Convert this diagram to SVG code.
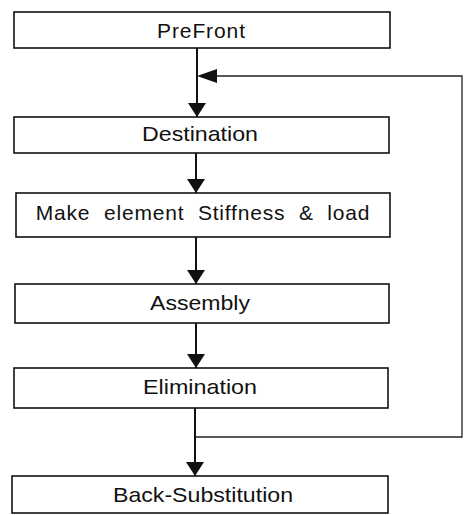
<svg xmlns="http://www.w3.org/2000/svg" width="468" height="515" viewBox="0 0 468 515">
<defs>
<style>
.box{fill:#fff;stroke:#111;stroke-width:1.6}
.t{font-family:"Liberation Sans",Arial,sans-serif;font-size:21px;fill:#111;text-anchor:middle}
.ln{stroke:#111;stroke-width:2;fill:none}
.fb{stroke:#222;stroke-width:1.3;fill:none}
</style>
<marker id="ah" viewBox="0 0 14 18" refX="14" refY="9" markerWidth="14" markerHeight="18" markerUnits="userSpaceOnUse" orient="auto">
<path d="M0,0 L14,9 L0,18 Z" fill="#111"/>
</marker>
</defs>
<rect width="468" height="515" fill="#fff"/>
<g id="connectors">
<line class="ln" x1="197" y1="48" x2="197" y2="117" marker-end="url(#ah)"/>
<polyline class="fb" points="196,437 462,437 462,76 216,76"/>
<path d="M197,76 L217,69 L217,83 Z" fill="#111"/>
<line class="ln" x1="196" y1="153" x2="196" y2="193" marker-end="url(#ah)"/>
<line class="ln" x1="196" y1="237" x2="196" y2="284" marker-end="url(#ah)"/>
<line class="ln" x1="196" y1="323" x2="196" y2="368" marker-end="url(#ah)"/>
<line class="ln" x1="195" y1="408" x2="195" y2="476" marker-end="url(#ah)"/>
</g>
<g id="prefront"><rect class="box" x="14" y="12" width="376" height="36"/><text class="t" x="201" y="38" textLength="88" lengthAdjust="spacing">PreFront</text></g>
<g id="destination"><rect class="box" x="14" y="117" width="375" height="36"/><text class="t" x="200" y="141" textLength="116" lengthAdjust="spacingAndGlyphs">Destination</text></g>
<g id="make"><rect class="box" x="16" y="193" width="374" height="44"/><text class="t" x="203" y="220" letter-spacing="0.8" word-spacing="7">Make element Stiffness &amp; load</text></g>
<g id="assembly"><rect class="box" x="15" y="284" width="374" height="39"/><text class="t" x="200" y="310" textLength="100" lengthAdjust="spacingAndGlyphs">Assembly</text></g>
<g id="elimination"><rect class="box" x="14" y="368" width="374" height="40"/><text class="t" x="200" y="394" textLength="114" lengthAdjust="spacingAndGlyphs">Elimination</text></g>
<g id="backsub"><rect class="box" x="12" y="476" width="376" height="37"/><text class="t" x="203" y="502" textLength="180" lengthAdjust="spacingAndGlyphs">Back-Substitution</text></g>
</svg>
